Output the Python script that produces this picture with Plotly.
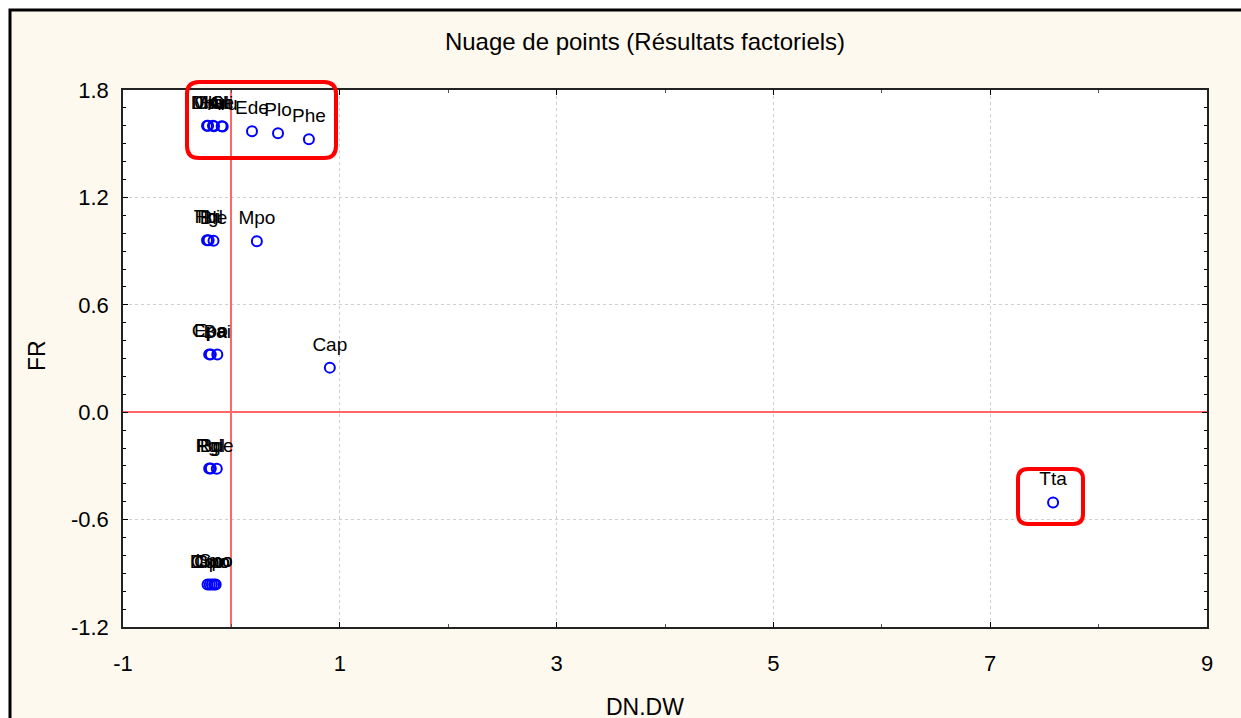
import plotly.graph_objects as go

# ---- data ----
species = ["Mdi", "Dbu", "Hal", "Cme", "Oli", "Aru", "Ede", "Plo", "Phe",
           "Tbi", "Hgl", "Ble", "Mpo",
           "Cpa", "Epo", "Bai", "Cap",
           "Pgi", "Rgl", "Bde",
           "Cco", "Dmo", "Gpo", "Lmo", "Spo",
           "Tta"]
dn_dw = [-0.225, -0.215, -0.17, -0.16, -0.09, -0.08, 0.19, 0.43, 0.715,
         -0.225, -0.21, -0.165, 0.235,
         -0.205, -0.19, -0.13, 0.908,
         -0.205, -0.19, -0.135,
         -0.22, -0.2, -0.18, -0.16, -0.145,
         7.58]
fr = [1.60, 1.60, 1.60, 1.598, 1.598, 1.596, 1.57, 1.558, 1.525,
      0.96, 0.96, 0.958, 0.955,
      0.323, 0.323, 0.322, 0.249,
      -0.315, -0.315, -0.316,
      -0.963, -0.963, -0.963, -0.962, -0.962,
      -0.504]

x_tickvals = [-1, 1, 3, 5, 7, 9]
x_ticktext = ["-1", "1", "3", "5", "7", "9"]
x_minorvals = [0, 2, 4, 6, 8]
y_tickvals = [-1.2, -0.6, 0.0, 0.6, 1.2, 1.8]
y_ticktext = ["-1.2", "-0.6", "0.0", "0.6", "1.2", "1.8"]
y_minorvals = [round(-1.2 + 0.1 * i, 1) for i in range(31)]

title_text = "Nuage de points (Résultats factoriels)"
x_title = "DN.DW"
y_title = "FR"

# ---- layout geometry (pixels) ----
W, H = 1241, 718
L, R, T, B = 123, 1207, 90, 627
PW, PH = R - L, B - T


def px(x):
    return (x - L) / PW


def py(y):
    return (B - y) / PH


def rounded_rect(x0p, y0p, x1p, y1p, rpx):
    x0, x1 = px(x0p), px(x1p)
    y0, y1 = py(y1p), py(y0p)
    rx, ry = rpx / PW, rpx / PH
    return (f"M {x0+rx},{y0} L {x1-rx},{y0} Q {x1},{y0} {x1},{y0+ry} "
            f"L {x1},{y1-ry} Q {x1},{y1} {x1-rx},{y1} L {x0+rx},{y1} "
            f"Q {x0},{y1} {x0},{y1-ry} L {x0},{y0+ry} Q {x0},{y0} {x0+rx},{y0} Z")


FONT = "Liberation Sans, Arial, sans-serif"

fig = go.Figure()
# point markers
fig.add_trace(go.Scatter(
    x=dn_dw, y=fr, mode="markers",
    marker=dict(symbol="circle-open", size=10, color="#0000FF",
                line=dict(width=2, color="#0000FF")),
    hoverinfo="skip", showlegend=False, cliponaxis=False,
))
# point labels (invisible larger markers only to lift the text)
fig.add_trace(go.Scatter(
    x=dn_dw, y=fr, mode="markers+text", text=species,
    textposition="top center",
    textfont=dict(family=FONT, size=19, color="#000"),
    marker=dict(size=18, color="rgba(0,0,0,0)"),
    hoverinfo="skip", showlegend=False, cliponaxis=False,
))

shapes = [
    # white strips outside the outer frame
    dict(type="rect", xref="paper", yref="paper", x0=px(-5), x1=px(W + 5),
         y0=py(10), y1=py(-5), fillcolor="white", line=dict(width=0), layer="below"),
    dict(type="rect", xref="paper", yref="paper", x0=px(-5), x1=px(10),
         y0=py(H + 5), y1=py(-5), fillcolor="white", line=dict(width=0), layer="below"),
    # outer frame (left and top)
    dict(type="path", xref="paper", yref="paper",
         path=f"M {px(10)},{py(H+5)} L {px(10)},{py(10)} L {px(W+5)},{py(10)}",
         line=dict(color="#000", width=3)),
    # red highlight boxes
    dict(type="path", xref="paper", yref="paper",
         path=rounded_rect(187, 82, 336, 158, 12),
         line=dict(color="#FF0000", width=4)),
    dict(type="path", xref="paper", yref="paper",
         path=rounded_rect(1018, 469, 1083, 524, 10),
         line=dict(color="#FF0000", width=4)),
]

annotations = [
    dict(text=x_title, xref="paper", yref="paper", x=px(645), y=py(707),
         xanchor="center", yanchor="middle", showarrow=False,
         font=dict(family=FONT, size=23, color="#000")),
    dict(text=y_title, xref="paper", yref="paper", x=px(37), y=py(356),
         xanchor="center", yanchor="middle", showarrow=False, textangle=-90,
         font=dict(family=FONT, size=23, color="#000")),
]

axis_common = dict(
    showline=True, linecolor="#222", linewidth=1.5, mirror="ticks",
    ticks="inside", ticklen=5, tickwidth=1, tickcolor="#000",
    showgrid=True, gridcolor="#CFCFCF", gridwidth=1, griddash="dot",
    zeroline=True, zerolinecolor="#FF6666", zerolinewidth=1.5,
    tickfont=dict(family=FONT, size=22, color="#000"),
    tickmode="array",
)

fig.update_layout(
    width=W, height=H, autosize=False,
    margin=dict(l=L, r=W - R, t=T, b=H - B, pad=0),
    paper_bgcolor="#FEF9EE", plot_bgcolor="white",
    title=dict(text=title_text, x=645 / W, y=1 - 42 / H, xanchor="center",
               yanchor="middle", xref="container", yref="container",
               font=dict(family=FONT, size=24, color="#000")),
    xaxis=dict(**axis_common, range=[-1, 9], tickvals=x_tickvals, ticktext=x_ticktext,
               ticklabelstandoff=16,
               minor=dict(tickmode="array", tickvals=x_minorvals, ticks="inside",
                          ticklen=3, tickcolor="#555", showgrid=False)),
    yaxis=dict(**axis_common, range=[-1.2, 1.8], tickvals=y_tickvals, ticktext=y_ticktext,
               ticklabelstandoff=8,
               minor=dict(tickmode="array", tickvals=y_minorvals, ticks="inside",
                          ticklen=3, tickcolor="#000", showgrid=False)),
    shapes=shapes, annotations=annotations,
    showlegend=False,
)

fig.write_html("out.html", config={"displayModeBar": False},
               post_script="document.body.style.margin='0';")
